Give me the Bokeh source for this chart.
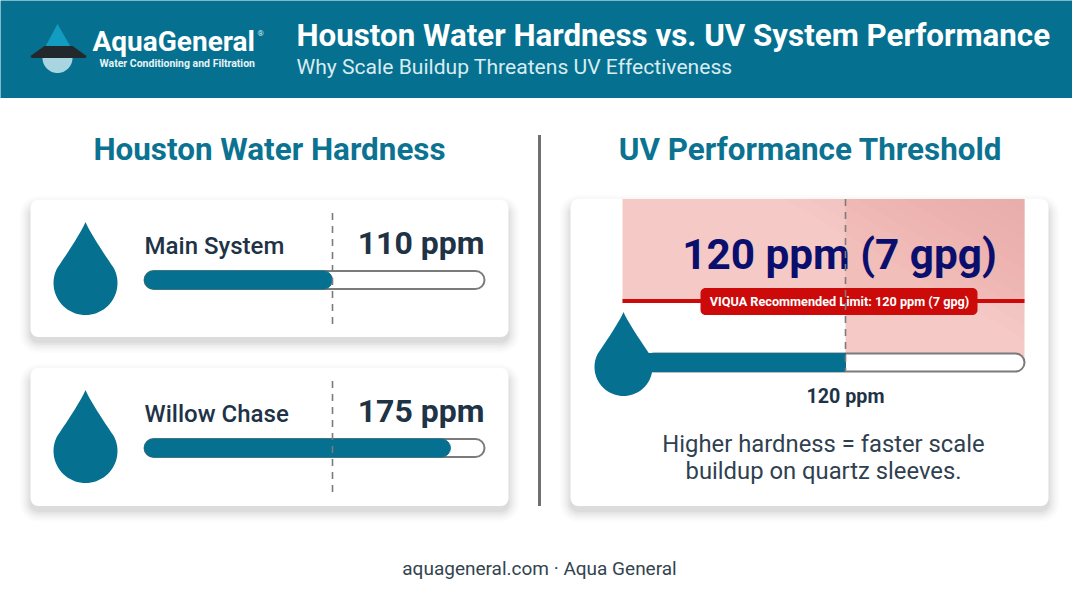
import math

from bokeh.core.properties import value
from bokeh.embed import file_html
from bokeh.models import Range1d
from bokeh.plotting import figure
from bokeh.resources import INLINE

# data
sites = ["Main System", "Willow Chase"]
hardness = [110, 175]
hardness_labels = ["110 ppm", "175 ppm"]
limit_ppm = [120]
limit_label = "120 ppm"
limit_big = "120 ppm (7 gpg)"
limit_badge = "VIQUA Recommended Limit: 120 ppm (7 gpg)"
titles = ["Houston Water Hardness", "UV Performance Threshold"]
note = ["Higher hardness = faster scale", "buildup on quartz sleeves."]

TEAL = "#05708f"
DARK = "#1f3347"
GREY = "#7b7b7b"
RED = "#cc0a0a"
W, H = 1072, 595
X0, Y0 = 1, 0.5


def rounded(x0, y0, x1, y1, r):
    xs, ys = [], []
    corners = [(x1 - r, y0 + r, -90), (x1 - r, y1 - r, 0), (x0 + r, y1 - r, 90), (x0 + r, y0 + r, 180)]
    for cx, cy, a0 in corners:
        for i in range(9):
            a = math.radians(a0 + i * 90 / 8)
            xs.append(cx + r * math.cos(a))
            ys.append(cy + r * math.sin(a))
    return xs, ys


def drop(cx, tip, cy, r):
    # tear shape: slightly concave sides from the tip to the round belly
    xs, ys = [], []
    start = math.radians(-28)
    px, py = cx + r * math.cos(start), cy + r * math.sin(start)
    for i in range(13):
        t = i / 12
        xs.append(cx + (px - cx) * t ** 1.12)
        ys.append(tip + (py - tip) * t)
    for i in range(1, 48):
        a = start + i * (math.pi + 2 * abs(start)) / 48
        xs.append(cx + r * math.cos(a))
        ys.append(cy + r * math.sin(a))
    for i in range(13):
        t = 1 - i / 12
        xs.append(cx - (px - cx) * t ** 1.12)
        ys.append(tip + (py - tip) * t)
    return xs, ys


p = figure(width=W, height=H, x_range=(X0, X0 + W), y_range=(Y0 + H, Y0),
           output_backend="svg", toolbar_location=None, min_border=0)
p.axis.visible = False
p.grid.visible = False
p.outline_line_color = None
p.background_fill_color = "#ffffff"
p.border_fill_color = "#ffffff"

# ppm scales of the two panels
left_k, left_zero = 1.815, 133.3
right_k, right_zero = 1.675, 645.0
p.extra_x_ranges = {
    "left_ppm": Range1d((X0 - left_zero) / left_k, (X0 + W - left_zero) / left_k),
    "right_ppm": Range1d((X0 - right_zero) / right_k, (X0 + W - right_zero) / right_k),
}
left_start = (145 - left_zero) / left_k
left_end = (485 - left_zero) / left_k
right_end = (1025 - right_zero) / right_k


def label(x, y, text, size, color, style="normal", align="left", font="Roboto"):
    p.text([x], [y], text=[text], text_font=value(font), text_font_size=size,
           text_color=color, text_font_style=style, text_align=align, text_baseline="middle")


# header
p.quad(left=[0], right=[W + 2], top=[0], bottom=[98], fill_color=TEAL, line_color=None)
p.patch([58, 44, 73], [24, 50, 50], fill_color="#129dc0", line_color=None)
lx, ly = drop(58, 48, 58, 15)
p.patch(lx, ly, fill_color="#a9d5e1", line_color=None)
p.patch([31, 45, 73, 87, 86, 32], [56, 46, 46, 56, 58, 58], fill_color="#22282c", line_color=None)
label(93, 41, "AquaGeneral", "28px", "#ffffff", "bold")
label(258, 33, "®", "8px", "#d8ecf1")
label(100, 63, "Water Conditioning and Filtration", "10.5px", "#e6f3f6", "bold")
label(297, 35, "Houston Water Hardness vs. UV System Performance", "31.3px", "#ffffff", "bold")
label(297, 66, "Why Scale Buildup Threatens UV Effectiveness", "21.1px", "#d8ecf1")

# section titles and divider
label(270, 149, titles[0], "31.4px", "#0b7391", "bold", "center")
label(811, 149, titles[1], "31.4px", "#0b7391", "bold", "center")
p.line([540, 540], [135, 506], line_color="#707070", line_width=3)

# cards with a soft shadow
cards = [(31, 200, 509, 337), (31, 368, 509, 506), (571, 199, 1049, 506)]
for x0, y0, x1, y1 in cards:
    for grow, alpha in [(11, 0.012), (9, 0.015), (7, 0.02), (5, 0.025), (3, 0.03), (1, 0.035)]:
        sx, sy = rounded(x0 - grow, y0 - grow + 7, x1 + grow, y1 + grow + 5, 8 + grow)
        p.patch(sx, sy, fill_color="#000000", fill_alpha=alpha, line_color=None)
    cx, cy = rounded(x0, y0, x1, y1, 8)
    p.patch(cx, cy, fill_color="#ffffff", line_color=None)

# left panel
tops = [213, 381]
for i, site in enumerate(sites):
    t = tops[i]
    dx, dy = drop(86, t + 9, t + 70, 32)
    p.patch(dx, dy, fill_color=TEAL, line_color=None)
    label(145, t + 33, site, "24px", DARK, font="Roboto Medium")
    label(485, t + 30, hardness_labels[i], "32px", DARK, "bold", "right")
    p.hbar(y=[t + 67], height=18, left=[left_start], right=[left_end], x_range_name="left_ppm",
           fill_color="#ffffff", line_color=GREY, line_width=2, border_radius=9)
    p.hbar(y=[t + 67], height=18, left=[left_start], right=[hardness[i]], x_range_name="left_ppm",
           fill_color=TEAL, line_color=TEAL, line_width=1, border_radius=9)
    p.line([333, 333], [t, t + 112], line_color=GREY, line_width=1.6, line_dash="7 6")

# right panel: warning zone
p.quad(left=[623], right=[1025], top=[199], bottom=[303], fill_color="#f5c9c6", line_color=None)
p.quad(left=[846], right=[1025], top=[303], bottom=[362], fill_color="#f5c9c6", line_color=None)
p.quad(left=[846], right=[1025], top=[199], bottom=[301], fill_color="#e99b95",
       fill_alpha=0.24, line_color=None)
for k in range(1, 11):
    # diagonal steps darkening towards the top right corner
    xa = 1025 - 24 * k
    yb = 199 + 14 * k
    p.patch([xa, 1025, 1025], [199, 199, yb], fill_color="#e99b95", fill_alpha=0.04, line_color=None)
p.line([623, 1025], [301, 301], line_color=RED, line_width=4)
p.hbar(y=[362.5], height=18, left=[0], right=[right_end], x_range_name="right_ppm",
       fill_color="#ffffff", line_color=GREY, line_width=2, border_radius=9)
p.hbar(y=[362.5], height=18, left=[0], right=limit_ppm, x_range_name="right_ppm",
       fill_color=TEAL, line_color=TEAL, line_width=1)
label(840, 254, limit_big, "42.3px", "#0a0f6e", "bold", "center")
bx, by = rounded(701, 288, 978, 315, 5)
p.patch(bx, by, fill_color=RED, line_color=None)
label(840, 301.5, limit_badge, "12.7px", "#ffffff", "bold", "center")
p.line([846, 846], [199, 372], line_color=GREY, line_width=1.6, line_dash="7 6")
dx, dy = drop(624, 312, 367, 29)
p.patch(dx, dy, fill_color=TEAL, line_color=None)
label(846, 396, limit_label, "19.7px", DARK, "bold", "center")
label(824, 444, note[0], "23.8px", "#2f4150", "normal", "center")
label(824, 471, note[1], "23.8px", "#2f4150", "normal", "center")

# footer
label(540, 568, "aquageneral.com · Aqua General", "19px", "#33444f", "normal", "center")

open("out.html", "w").write(file_html(p, INLINE))
